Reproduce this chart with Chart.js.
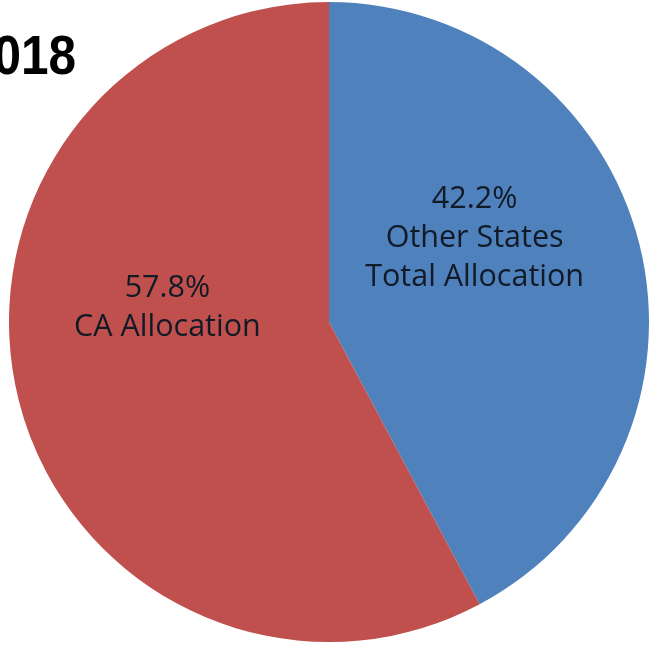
<!DOCTYPE html>
<html>
<head>
<meta charset="utf-8">
<script src="https://cdn.jsdelivr.net/npm/chart.js@4"></script>
<style>
    html, body { margin: 0; padding: 0; background: #fff; }
    #wrap { width: 654px; height: 646px; position: relative; }
</style>
</head>
<body>
<div id="wrap"><canvas id="allocChart" width="654" height="646"></canvas></div>
<script>
const categories = ['Other States Total Allocation', 'CA Allocation'];
const labelLines = [['Other States', 'Total Allocation'], ['CA Allocation']];
const shares = [42.2, 57.8];
const sliceColors = ['#4F81BD', '#C0504D'];
const titleText = '2018';

// where each slice's label block sits, relative to the pie centre (in radii)
const labelOffsets = [{ fx: 0.455, fy: -0.26 }, { fx: -0.505, fy: -0.045 }];

const sliceLabels = {
    id: 'sliceLabels',
    afterDatasetsDraw(chart) {
        const ctx = chart.ctx;
        const meta = chart.getDatasetMeta(0);
        ctx.save();
        ctx.fillStyle = '#111a26';
        ctx.textAlign = 'center';
        ctx.textBaseline = 'middle';
        ctx.font = '30.5px "Open Sans", sans-serif';
        const lineH = 39;
        meta.data.forEach((arc, i) => {
            const r = arc.outerRadius;
            const cx = arc.x + labelOffsets[i].fx * r;
            const cy = arc.y + labelOffsets[i].fy * r;
            const lines = [shares[i].toFixed(1) + '%'].concat(labelLines[i]);
            const top = cy - (lines.length - 1) * lineH / 2;
            lines.forEach((t, k) => ctx.fillText(t, cx, top + k * lineH));
        });
        ctx.restore();
    }
};

const yearTitle = {
    id: 'yearTitle',
    afterDraw(chart) {
        const ctx = chart.ctx;
        ctx.save();
        ctx.fillStyle = '#000';
        ctx.textAlign = 'right';
        ctx.textBaseline = 'alphabetic';
        // squeeze the bold face a little so the digits keep their narrow width
        ctx.translate(76, 74);
        ctx.scale(0.9, 1);
        ctx.font = 'bold 55px "Liberation Sans", Arial, sans-serif';
        ctx.fillText(titleText, 0, 0);
        ctx.restore();
    }
};

new Chart(document.getElementById('allocChart'), {
    type: 'pie',
    data: {
        labels: categories,
        datasets: [{
            data: shares,
            backgroundColor: sliceColors,
            borderWidth: 0
        }]
    },
    options: {
        responsive: false,
        animation: false,
        layout: { padding: { left: 8, right: 4, top: 2, bottom: 4 } },
        plugins: {
            legend: { display: false },
            tooltip: { enabled: false }
        }
    },
    plugins: [sliceLabels, yearTitle]
});
</script>
</body>
</html>
